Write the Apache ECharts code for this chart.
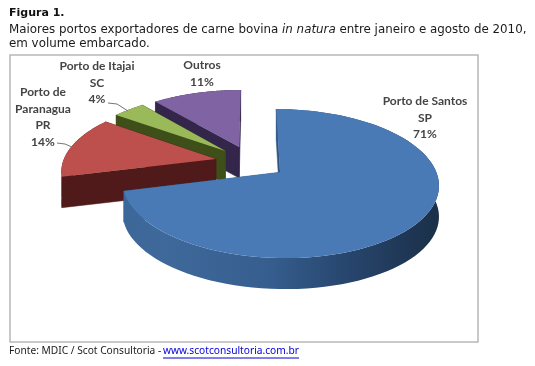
<!DOCTYPE html>
<html>
<head>
<meta charset="utf-8">
<title>Figura 1</title>
<script src="https://cdn.jsdelivr.net/npm/echarts@6/dist/echarts.min.js"></script>
<style>
html, body { margin: 0; padding: 0; background: #fff; }
#chart { width: 535px; height: 366px; }
</style>
</head>
<body>
<div id="chart"></div>
<script>
// Dados
const portNames = ['Porto de Santos', 'Porto de Paranagua', 'Porto de Itajai', 'Outros'];
const portStates = ['SP', 'PR', 'SC', ''];
const portShares = [71, 14, 4, 11];

const topColors = ['#4a7ab6', '#bd504d', '#9aba59', '#7f63a2'];
const wallColors = ['#2f5482', '#4f1a19', '#3f4f1a', '#33264a'];

// Projecao do "pie 3D" do Excel
const view = { cx: 251, cy: 162, rx: 153, ry: 69.7, persp: 0.149, depth: 31, explode: 0.235 };

function project(u, v, drop) {
    const s = 1 / (1 - view.persp * v);
    return [view.cx + view.rx * u * s, view.cy + view.ry * v * s + (drop ? view.depth : 0)];
}

const total = portShares.reduce((a, b) => a + b, 0);

function renderSlice(params, api) {
    const i = params.dataIndex;
    let before = 0;
    for (let k = 0; k < i; k++) before += portShares[k];
    const start = before / total * Math.PI * 2;
    const end = (before + api.value(0)) / total * Math.PI * 2;
    const mid = (start + end) / 2;
    const ou = Math.sin(mid) * view.explode;
    const ov = -Math.cos(mid) * view.explode;

    const arcTop = [];
    const arcBottom = [];
    const steps = 90;
    for (let n = 0; n <= steps; n++) {
        const a = start + (end - start) * n / steps;
        const u = ou + Math.sin(a);
        const v = ov - Math.cos(a);
        arcTop.push(project(u, v, false));
        arcBottom.push(project(u, v, true));
    }
    const apexTop = project(ou, ov, false);
    const apexBottom = project(ou, ov, true);

    const z = 40 - i * 10;
    let wallFill = wallColors[i];
    if (i === 0) {
        wallFill = {
            type: 'linear', global: true, x: 125, y: 0, x2: 437, y2: 0,
            colorStops: [
                { offset: 0, color: '#3c6798' },
                { offset: 0.12, color: '#40699b' },
                { offset: 0.45, color: '#365f90' },
                { offset: 0.72, color: '#27456c' },
                { offset: 1, color: '#1b3049' }
            ]
        };
    }
    const sideStyle = { fill: wallColors[i], stroke: wallColors[i], lineWidth: 0.5 };
    return {
        type: 'group',
        children: [
            { type: 'polygon', z2: z, shape: { points: [apexTop, arcTop[0], arcBottom[0], apexBottom] }, style: sideStyle },
            { type: 'polygon', z2: z, shape: { points: [apexTop, arcTop[steps], arcBottom[steps], apexBottom] }, style: sideStyle },
            { type: 'polygon', z2: z + 1, shape: { points: arcTop.concat(arcBottom.slice().reverse()) }, style: { fill: wallFill } },
            { type: 'polygon', z2: z + 2, shape: { points: [apexTop].concat(arcTop) }, style: { fill: topColors[i] } }
        ]
    };
}

const labelFont = { fontFamily: 'Lato', fontSize: 12, fontWeight: 'bold', fill: '#444', align: 'center', lineHeight: 16.5 };
const bodyFont = { fontFamily: 'DejaVu Sans', fontSize: 11.87, fill: '#1a1a1a' };
const footFont = { fontFamily: 'Noto Sans', fontSize: 10.2, fill: '#1a1a1a' };

function sliceLabel(i, x, y, lines) {
    return { type: 'text', x: x, y: y, z: 10, style: Object.assign({}, labelFont, { text: lines.concat(portShares[i] + '%').join('\n') }) };
}

const chart = echarts.init(document.getElementById('chart'), null, { renderer: 'canvas' });
chart.setOption({
    animation: false,
    series: [{
        type: 'custom',
        coordinateSystem: 'none',
        renderItem: renderSlice,
        data: portShares.map(v => [v]),
        z: 5
    }],
    graphic: [
        { type: 'rect', z: 1, shape: { x: 10, y: 55, width: 468, height: 287 }, style: { fill: '#fff', stroke: '#b8b8b8', lineWidth: 1.5 } },
        { type: 'text', x: 9, y: 8, style: { text: 'Figura 1.', fontFamily: 'DejaVu Sans', fontSize: 11, fontWeight: 'bold', fill: '#111' } },
        { type: 'text', x: 9, y: 24, style: Object.assign({}, bodyFont, {
            text: '{a|Maiores portos exportadores de carne bovina }{b|in natura}{a| entre janeiro e agosto de 2010,}',
            rich: { a: bodyFont, b: Object.assign({}, bodyFont, { fontStyle: 'italic' }) }
        }) },
        { type: 'text', x: 9, y: 38, style: Object.assign({}, bodyFont, { text: 'em volume embarcado.' }) },
        sliceLabel(0, 425, 93, ['Porto de Santos', portStates[0]]),
        sliceLabel(1, 43, 84, ['Porto de', 'Paranagua', portStates[1]]),
        sliceLabel(2, 97, 58, ['Porto de Itajai', portStates[2]]),
        sliceLabel(3, 202, 57, [portNames[3]]),
        { type: 'polyline', z: 10, shape: { points: [[108, 103], [117, 104], [128, 111]] }, style: { stroke: '#777', fill: null, lineWidth: 1 } },
        { type: 'polyline', z: 10, shape: { points: [[57, 143], [65, 144], [72, 147]] }, style: { stroke: '#777', fill: null, lineWidth: 1 } },
        { type: 'text', x: 9, y: 346, style: Object.assign({}, footFont, { text: 'Fonte: MDIC / Scot Consultoria - ' }) },
        { type: 'text', x: 163, y: 346, style: Object.assign({}, footFont, { text: 'www.scotconsultoria.com.br', fill: '#0000d8' }) },
        { type: 'line', shape: { x1: 163, y1: 358, x2: 299, y2: 358 }, style: { stroke: '#0000d8', lineWidth: 1 } }
    ]
});
</script>
</body>
</html>
